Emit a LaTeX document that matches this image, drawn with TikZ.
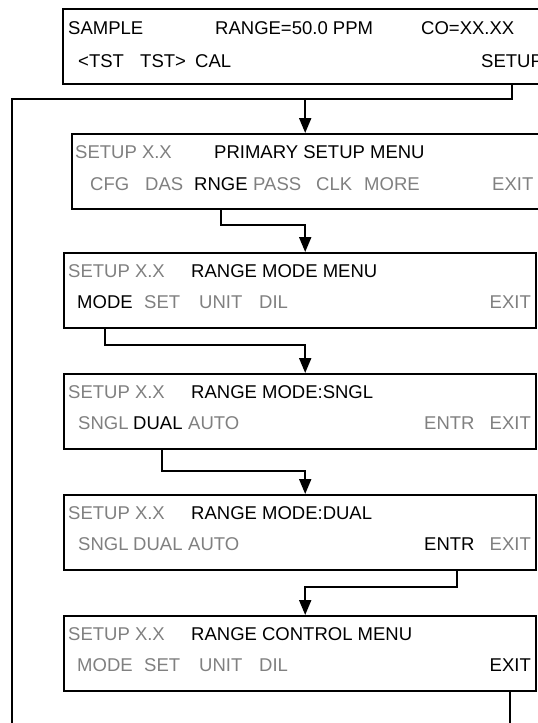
\documentclass[tikz,border=0pt]{standalone}
\usepackage{fontspec}
\setmainfont{Liberation Sans}
\usetikzlibrary{arrows.meta}
\definecolor{keygray}{RGB}{128,128,128}
\tikzset{
  scrbox/.style={draw,line width=2.4pt,anchor=north west,minimum height=75pt,inner sep=0pt},
  lbl/.style={anchor=base west,inner sep=0pt,font=\fontsize{18.5}{20}\selectfont},
  dim/.style={lbl,text=keygray},
  wire/.style={line width=2pt},
  feed/.style={wire,-{Triangle[length=15pt,width=12pt]}}
}
\begin{document}
\begin{tikzpicture}[x=1pt,y=-1pt]
\useasboundingbox (0,0) rectangle (538,723);
\clip (0,0) rectangle (538,723);
\fill[white] (0,0) rectangle (538,723);
% screens
\node[scrbox,minimum width=490pt] (top) at (62,8) {};
\node[scrbox,minimum width=480pt] (prim) at (71,133) {};
\node[scrbox,minimum width=472pt] (rmode) at (63,252) {};
\node[scrbox,minimum width=472pt] (sngl) at (63,373) {};
\node[scrbox,minimum width=472pt] (dual) at (63,494) {};
\node[scrbox,minimum width=472pt] (rctl) at (63,615) {};
% sample display
\node[lbl] (sample) at (68,34) {SAMPLE};
\node[lbl] (rng) at (215,34) {RANGE=50.0 PPM};
\node[lbl] (co) at (421,34) {CO=XX.XX};
\node[lbl] (tstl) at (78,67) {<TST};
\node[lbl] (tstr) at (140,67) {TST>};
\node[lbl] (cal) at (195,67) {CAL};
\node[lbl] (setup) at (481,67) {SETUP};
% primary setup
\node[dim] (pver) at (75,158) {SETUP X.X};
\node[lbl] (ptitle) at (214,158) {PRIMARY SETUP MENU};
\node[dim] (cfg) at (90,190) {CFG};
\node[dim] (das) at (145,190) {DAS};
\node[lbl] (rnge) at (194,190) {RNGE};
\node[dim] (pass) at (253,190) {PASS};
\node[dim] (clk) at (316,190) {CLK};
\node[dim] (more) at (364,190) {MORE};
\node[dim] (pexit) at (492,190) {EXIT};
% range mode menu
\node[dim] (mver) at (68,277) {SETUP X.X};
\node[lbl] (mtitle) at (191,277) {RANGE MODE MENU};
\node[lbl] (mode) at (77,308) {MODE};
\node[dim] (mset) at (144,308) {SET};
\node[dim] (munit) at (199,308) {UNIT};
\node[dim] (mdil) at (259,308) {DIL};
\node[dim,anchor=base east] (mexit) at (531,308) {EXIT};
% range mode sngl
\node[dim] (sver) at (68,398) {SETUP X.X};
\node[lbl] (stitle) at (191,398) {RANGE MODE:SNGL};
\node[dim] (ssngl) at (78,429) {SNGL};
\node[lbl] (sdual) at (133,429) {DUAL};
\node[dim] (sauto) at (188,429) {AUTO};
\node[dim] (sentr) at (424,429) {ENTR};
\node[dim,anchor=base east] (sexit) at (531,429) {EXIT};
% range mode dual
\node[dim] (dver) at (68,519) {SETUP X.X};
\node[lbl] (dtitle) at (191,519) {RANGE MODE:DUAL};
\node[dim] (dsngl) at (78,550) {SNGL};
\node[dim] (ddual) at (133,550) {DUAL};
\node[dim] (dauto) at (188,550) {AUTO};
\node[lbl] (dentr) at (424,550) {ENTR};
\node[dim,anchor=base east] (dexit) at (531,550) {EXIT};
% range control menu
\node[dim] (cver) at (68,640) {SETUP X.X};
\node[lbl] (ctitle) at (191,640) {RANGE CONTROL MENU};
\node[dim] (cmode) at (77,671) {MODE};
\node[dim] (cset) at (144,671) {SET};
\node[dim] (cunit) at (199,671) {UNIT};
\node[dim] (cdil) at (259,671) {DIL};
\node[lbl,anchor=base east] (cexit) at (531,671) {EXIT};
% key presses
\coordinate (loopL) at (12,99);
\draw[wire] (setup.south |- top.south) |- (loopL) -- (12,760) -| (cexit.south |- rctl.south);
\draw[feed] ([xshift=-7pt]prim.north |- loopL) -- ([xshift=-7pt]prim.north);
\draw[feed] (rnge.south |- prim.south) -- ++(0,15) -| ([xshift=5pt]rmode.north);
\draw[feed] (mode.south |- rmode.south) -- ++(0,16) -| ([xshift=5pt]sngl.north);
\draw[feed] ([xshift=4pt]sdual.south |- sngl.south) -- ++(0,21) -| ([xshift=5pt]dual.north);
\draw[feed] ([xshift=8pt]dentr.south |- dual.south) -- ++(0,16) -| ([xshift=5pt]rctl.north);
\end{tikzpicture}
\end{document}
